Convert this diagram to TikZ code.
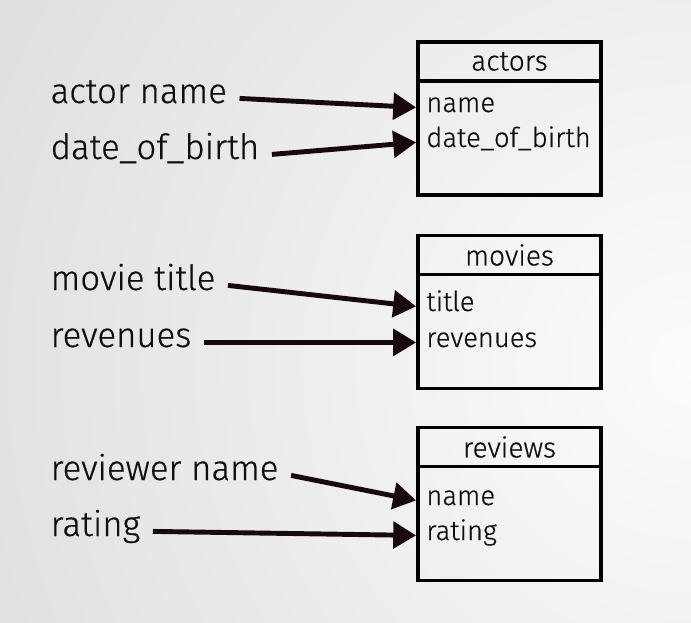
\documentclass[tikz,border=0pt]{standalone}
\usepackage{fontspec}
\setmainfont{Fira Sans Light}[FakeBold=0.5]
\usetikzlibrary{positioning,arrows.meta}
\definecolor{bgdark}{RGB}{196,196,196}
\definecolor{bglight}{RGB}{252,252,252}
\definecolor{ink}{RGB}{24,10,12}
\definecolor{txt}{RGB}{15,15,15}
\tikzset{
  tablehead/.style={draw,line width=2.2pt,minimum width=3.66cm,minimum height=0.78cm,inner sep=0pt,text=txt,font=\fontsize{16}{19}\selectfont},
  tablebody/.style={draw,line width=2.2pt,minimum width=3.66cm,minimum height=2.28cm,inner sep=0pt,below=-2.2pt of #1},
  field/.style={anchor=base west,inner sep=0pt,text height=1ex,text depth=0pt,text=txt,font=\fontsize{15.6}{19}\selectfont},
  source/.style={anchor=base west,inner xsep=7pt,inner ysep=0pt,text height=1ex,text depth=0pt,text=txt,font=\fontsize{19.8}{24}\selectfont},
  feed/.style={-{Triangle[length=13pt,width=15pt]},line width=2.8pt,color=ink}
}
\begin{document}
\begin{tikzpicture}[x=0.02cm,y=-0.02cm]
\useasboundingbox (0,0) rectangle (691,623);
\begin{scope}
\clip (0,0) rectangle (691,623);
\fill[bgdark] (0,0) rectangle (691,623);
\shade[inner color=bglight,outer color=bgdark] (690,365) circle (30cm);
\end{scope}
% actors table
\node[tablehead] (actors) at (509.5,61.5) {actors};
\node[tablebody=actors] (actorsbody) {};
\node[field] (aname) at (426,112) {name};
\node[field] (abirth) at (426,147) {date\_of\_birth};
% movies table
\node[tablehead] (movies) at (509.5,255) {movies};
\node[tablebody=movies] (moviesbody) {};
\node[field] (mtitle) at (426,311) {title};
\node[field] (mrevenues) at (426,347) {revenues};
% reviews table
\node[tablehead] (reviews) at (509.5,447) {reviews};
\node[tablebody=reviews] (reviewsbody) {};
\node[field] (rname) at (426,505) {name};
\node[field] (rrating) at (426,540) {rating};
% the data
\node[source] (actorname) at (38,103) {actor name};
\node[source] (birth) at (38,159) {date\_of\_birth};
\node[source] (movietitle) at (38,290) {movie title};
\node[source] (revenues) at (38,347) {revenues};
\node[source] (reviewer) at (38,480) {reviewer name};
\node[source] (rating) at (38,536) {rating};
\draw[feed] (actorname.east) -- (aname.west -| actorsbody.west);
\draw[feed] (birth.east) -- (abirth.west -| actorsbody.west);
\draw[feed] (movietitle.east) -- (mtitle.west -| moviesbody.west);
\draw[feed] (revenues.east) -- (mrevenues.west -| moviesbody.west);
\draw[feed] (reviewer.east) -- (rname.west -| reviewsbody.west);
\draw[feed] (rating.east) -- (rrating.west -| reviewsbody.west);
\end{tikzpicture}
\end{document}
